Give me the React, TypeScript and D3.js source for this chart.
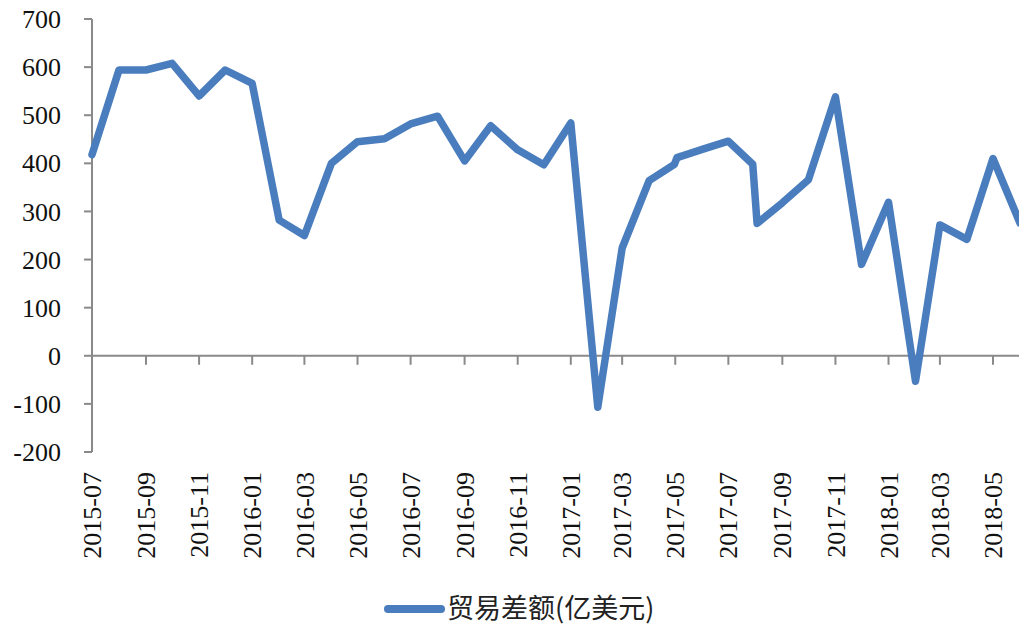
import React from "react";
import * as d3 from "d3";

const dates: string[] = [
  "2015-07-01", "2015-08-01", "2015-09-01", "2015-10-01", "2015-11-01", "2015-12-01",
  "2016-01-01", "2016-02-01", "2016-03-01", "2016-04-01", "2016-05-01", "2016-06-01",
  "2016-07-01", "2016-08-01", "2016-09-01", "2016-10-01", "2016-11-01", "2016-12-01",
  "2017-01-01", "2017-02-01", "2017-03-01", "2017-04-01", "2017-04-30", "2017-05-03",
  "2017-06-01", "2017-07-01", "2017-07-29", "2017-08-03", "2017-09-01", "2017-10-01",
  "2017-11-01", "2017-12-01", "2018-01-01", "2018-02-01", "2018-03-01", "2018-04-01",
  "2018-05-01", "2018-06-01",
];

const balance: number[] = [
  418, 594, 594, 608, 540, 594,
  566, 282, 250, 400, 445, 451,
  482, 498, 405, 478, 428, 397,
  484, -107, 224, 364, 398, 412,
  429, 446, 398, 275, 318, 366,
  538, 190, 319, -53, 272, 242,
  410, 276,
];

const yTicks: number[] = [-200, -100, 0, 100, 200, 300, 400, 500, 600, 700];

const xTickLabels: string[] = [
  "2015-07", "2015-09", "2015-11", "2016-01", "2016-03", "2016-05", "2016-07",
  "2016-09", "2016-11", "2017-01", "2017-03", "2017-05", "2017-07", "2017-09",
  "2017-11", "2018-01", "2018-03", "2018-05",
];

const seriesName = "贸易差额(亿美元)";

const W = 1019;
const H = 626;
const parse = d3.utcParse("%Y-%m-%d");
const parseMonth = d3.utcParse("%Y-%m");

export default function App() {
  const x = d3
    .scaleUtc()
    .domain([parse("2015-07-01")!, parse("2018-05-01")!])
    .range([92, 993]);
  const y = d3.scaleLinear().domain([-200, 700]).range([452, 19]);

  const data = dates.map((d, i) => ({ date: parse(d)!, value: balance[i] }));
  const line = d3
    .line<{ date: Date; value: number }>()
    .x((d) => x(d.date))
    .y((d) => y(d.value));

  const axisColor = "#8a8a8a";
  const blue = "#4a7dbd";
  const x0 = x(parse("2015-07-01")!);

  return (
    <div style={{ position: "absolute", left: 0, top: 0 }}>
      <svg width={W} height={H} style={{ display: "block", background: "#fff" }}>
        <defs>
          <clipPath id="plotclip">
            <rect x={0} y={0} width={W} height={H} />
          </clipPath>
        </defs>
        {/* y axis */}
        <line x1={x0} x2={x0} y1={y(700)} y2={y(-200)} stroke={axisColor} strokeWidth={2} />
        {yTicks.map((t) => (
          <g key={t}>
            <line x1={x0 - 8} x2={x0} y1={y(t)} y2={y(t)} stroke={axisColor} strokeWidth={2} />
            <text
              x={61}
              y={y(t)}
              dy="0.35em"
              textAnchor="end"
              fontFamily="'Liberation Serif', 'Times New Roman', serif"
              fontSize={26}
              fill="#111"
            >
              {t}
            </text>
          </g>
        ))}
        {/* x axis at 0 */}
        <line x1={x0} x2={W} y1={y(0)} y2={y(0)} stroke={axisColor} strokeWidth={2} />
        {xTickLabels.map((lab) => {
          const xp = x(parseMonth(lab)!);
          return (
            <g key={lab}>
              <line x1={xp} x2={xp} y1={y(0)} y2={y(0) + 9} stroke={axisColor} strokeWidth={2} />
              <text
                transform={`translate(${xp},472) rotate(-90)`}
                dy="0.35em"
                textAnchor="end"
                fontFamily="'Liberation Serif', 'Times New Roman', serif"
                fontSize={26}
                fill="#111"
              >
                {lab}
              </text>
            </g>
          );
        })}
        {/* series line */}
        <path
          d={line(data) || ""}
          fill="none"
          stroke={blue}
          strokeWidth={7.5}
          strokeLinejoin="round"
          strokeLinecap="round"
          clipPath="url(#plotclip)"
        />
        {/* legend */}
        <line x1={388} x2={441} y1={609} y2={609} stroke={blue} strokeWidth={8} strokeLinecap="round" />
        <text
          x={447}
          y={609}
          dy="0.35em"
          fontFamily="'Noto Sans CJK SC', 'Noto Sans', sans-serif"
          fontSize={27}
          fill="#222"
        >
          {seriesName}
        </text>
      </svg>
    </div>
  );
}
